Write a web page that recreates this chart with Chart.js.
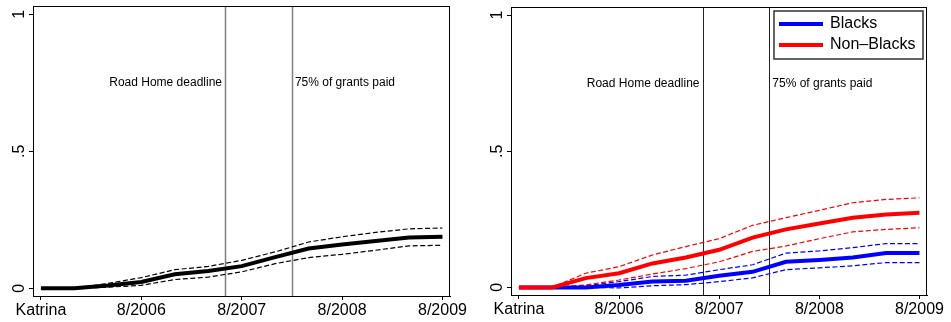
<!DOCTYPE html>
<html>
<head>
<meta charset="utf-8">
<script src="https://cdn.jsdelivr.net/npm/chart.js@4/dist/chart.umd.min.js"></script>
<style>
  html, body { margin: 0; padding: 0; background: #fff; }
  .panel { position: absolute; top: 0; width: 475px; height: 322px; }
  #left { left: 0; }
  #right { left: 476px; }
</style>
</head>
<body>
<div class="panel" id="left"><canvas id="allChart" width="475" height="322"></canvas></div>
<div class="panel" id="right"><canvas id="raceChart" width="475" height="322"></canvas></div>
<script>
// Months since Katrina (8/2005), one observation every four months
const months = [0, 4, 8, 12, 16, 20, 24, 28, 32, 36, 40, 44, 48];

const xTickMonths = [0, 12, 24, 36, 48];
const xTickLabels = ['Katrina', '8/2006', '8/2007', '8/2008', '8/2009'];
const yTickValues = [0, 0.5, 1];
const yTickLabels = ['0', '.5', '1'];

const eventMonths = [22, 30];
const eventLabels = ['Road Home deadline', '75% of grants paid'];

// All households: estimate with upper / lower bands
const allEst = [0, 0, 0.010, 0.023, 0.051, 0.063, 0.081, 0.114, 0.145, 0.160, 0.173, 0.185, 0.188];
const allHi  = [0, 0, 0.018, 0.039, 0.068, 0.080, 0.102, 0.133, 0.169, 0.188, 0.204, 0.217, 0.220];
const allLo  = [0, 0, 0.004, 0.011, 0.032, 0.041, 0.060, 0.090, 0.112, 0.124, 0.139, 0.155, 0.157];

// By race
const blackEst = [0, 0, 0, 0.009, 0.022, 0.024, 0.043, 0.057, 0.094, 0.101, 0.110, 0.126, 0.126];
const blackHi  = [0, 0, 0.006, 0.021, 0.040, 0.045, 0.065, 0.083, 0.126, 0.134, 0.146, 0.161, 0.161];
const blackLo  = [0, 0, 0, -0.002, 0.006, 0.010, 0.021, 0.035, 0.065, 0.072, 0.079, 0.091, 0.091];
const nonBlackEst = [0, 0, 0.034, 0.052, 0.088, 0.110, 0.138, 0.183, 0.213, 0.235, 0.256, 0.268, 0.274];
const nonBlackHi  = [0, 0, 0.052, 0.076, 0.119, 0.150, 0.179, 0.228, 0.256, 0.283, 0.311, 0.323, 0.329];
const nonBlackLo  = [0, 0, 0.009, 0.027, 0.049, 0.069, 0.094, 0.132, 0.152, 0.179, 0.204, 0.213, 0.219];

const legendLabels = ['Blacks', 'Non\u2013Blacks'];
const FONT = '"Liberation Sans", Arial, Helvetica, sans-serif';

function pts(ys) {
    return months.map((m, i) => ({ x: m, y: ys[i] }));
}

function solid(ys, color) {
    return { data: pts(ys), borderColor: color, borderWidth: 4, pointRadius: 0, tension: 0, fill: false };
}

function dashed(ys, color) {
    return { data: pts(ys), borderColor: color, borderWidth: 1.2, borderDash: [5, 2.5], pointRadius: 0, tension: 0, fill: false };
}

// Frame, event lines, rotated y labels and (optionally) the legend
function panelPlugin(cfg) {
    return {
        id: 'panelDecor',
        beforeDatasetsDraw(chart) {
            const { ctx, chartArea: a, scales: { x } } = chart;
            ctx.save();
            ctx.strokeStyle = cfg.eventColor;
            ctx.lineWidth = cfg.eventWidth;
            eventMonths.forEach(m => {
                const px = Math.round(x.getPixelForValue(m)) + 0.5;
                ctx.beginPath();
                ctx.moveTo(px, a.top);
                ctx.lineTo(px, a.bottom);
                ctx.stroke();
            });
            ctx.fillStyle = '#000';
            ctx.font = '12px ' + FONT;
            ctx.textBaseline = 'middle';
            const ty = a.top + 77;
            ctx.textAlign = 'right';
            ctx.fillText(eventLabels[0], x.getPixelForValue(eventMonths[0]) - 3, ty);
            ctx.textAlign = 'left';
            ctx.fillText(eventLabels[1], x.getPixelForValue(eventMonths[1]) + 3, ty);
            ctx.restore();
        },
        afterDraw(chart) {
            const { ctx, chartArea: a, scales: { y } } = chart;
            ctx.save();
            ctx.strokeStyle = '#000';
            ctx.lineWidth = 1;
            ctx.strokeRect(a.left + 0.5, a.top + 0.5, a.right - a.left - 1, a.bottom - a.top);

            ctx.fillStyle = '#000';
            ctx.font = '16px ' + FONT;
            ctx.textAlign = 'center';
            ctx.textBaseline = 'alphabetic';
            yTickValues.forEach((v, i) => {
                const py = y.getPixelForValue(v);
                ctx.save();
                ctx.translate(a.left - 9, py);
                ctx.rotate(-Math.PI / 2);
                ctx.fillText(yTickLabels[i], 0, 0);
                ctx.restore();
            });

            if (cfg.legend) {
                const bx = 298, by = 11, bw = 149, bh = 48;
                ctx.strokeStyle = '#333';
                ctx.lineWidth = 1.5;
                ctx.strokeRect(bx, by, bw, bh);
                const colors = ['#0000ff', '#ff0000'];
                ctx.font = '16px ' + FONT;
                ctx.textAlign = 'left';
                ctx.textBaseline = 'middle';
                legendLabels.forEach((t, i) => {
                    const ly = 24 + i * 21;
                    ctx.strokeStyle = colors[i];
                    ctx.lineWidth = 4;
                    ctx.beginPath();
                    ctx.moveTo(303, ly);
                    ctx.lineTo(347, ly);
                    ctx.stroke();
                    ctx.fillStyle = '#000';
                    ctx.fillText(t, 354, ly);
                });
            }
            ctx.restore();
        }
    };
}

function makeChart(canvasId, datasets, geo, cfg) {
    return new Chart(document.getElementById(canvasId), {
        type: 'line',
        data: { datasets },
        options: {
            responsive: false,
            animation: false,
            layout: { padding: { top: geo.top, right: geo.right, left: 0, bottom: 0 } },
            plugins: { legend: { display: false }, tooltip: { enabled: false } },
            scales: {
                x: {
                    type: 'linear',
                    min: -0.95,
                    max: 48.9,
                    afterBuildTicks: s => { s.ticks = xTickMonths.map(v => ({ value: v })); },
                    afterFit: s => { s.height = geo.xHeight; },
                    border: { color: '#000', width: 1 },
                    grid: { drawOnChartArea: false, drawTicks: true, tickLength: 4, color: '#000' },
                    ticks: {
                        autoSkip: false,
                        maxRotation: 0,
                        padding: 1,
                        color: '#000',
                        font: { family: FONT, size: 16 },
                        callback: v => xTickLabels[xTickMonths.indexOf(v)]
                    }
                },
                y: {
                    min: -0.028,
                    max: 1.03,
                    afterBuildTicks: s => { s.ticks = yTickValues.map(v => ({ value: v })); },
                    afterFit: s => { s.width = geo.yWidth; },
                    border: { color: '#000', width: 1 },
                    grid: { drawOnChartArea: false, drawTicks: true, tickLength: 4, color: '#000' },
                    ticks: { display: false }
                }
            }
        },
        plugins: [panelPlugin(cfg)]
    });
}

makeChart('allChart', [
    solid(allEst, '#000000'),
    dashed(allHi, '#000000'),
    dashed(allLo, '#000000')
], { top: 6, right: 25, yWidth: 33, xHeight: 26 }, { eventColor: '#808080', eventWidth: 1.5, legend: false });

makeChart('raceChart', [
    solid(nonBlackEst, '#ff0000'),
    solid(blackEst, '#0000ff'),
    dashed(nonBlackHi, '#ff0000'),
    dashed(nonBlackLo, '#ff0000'),
    dashed(blackHi, '#0000ff'),
    dashed(blackLo, '#0000ff')
], { top: 7, right: 24, yWidth: 35, xHeight: 27 }, { eventColor: '#222222', eventWidth: 1, legend: true });
</script>
</body>
</html>
